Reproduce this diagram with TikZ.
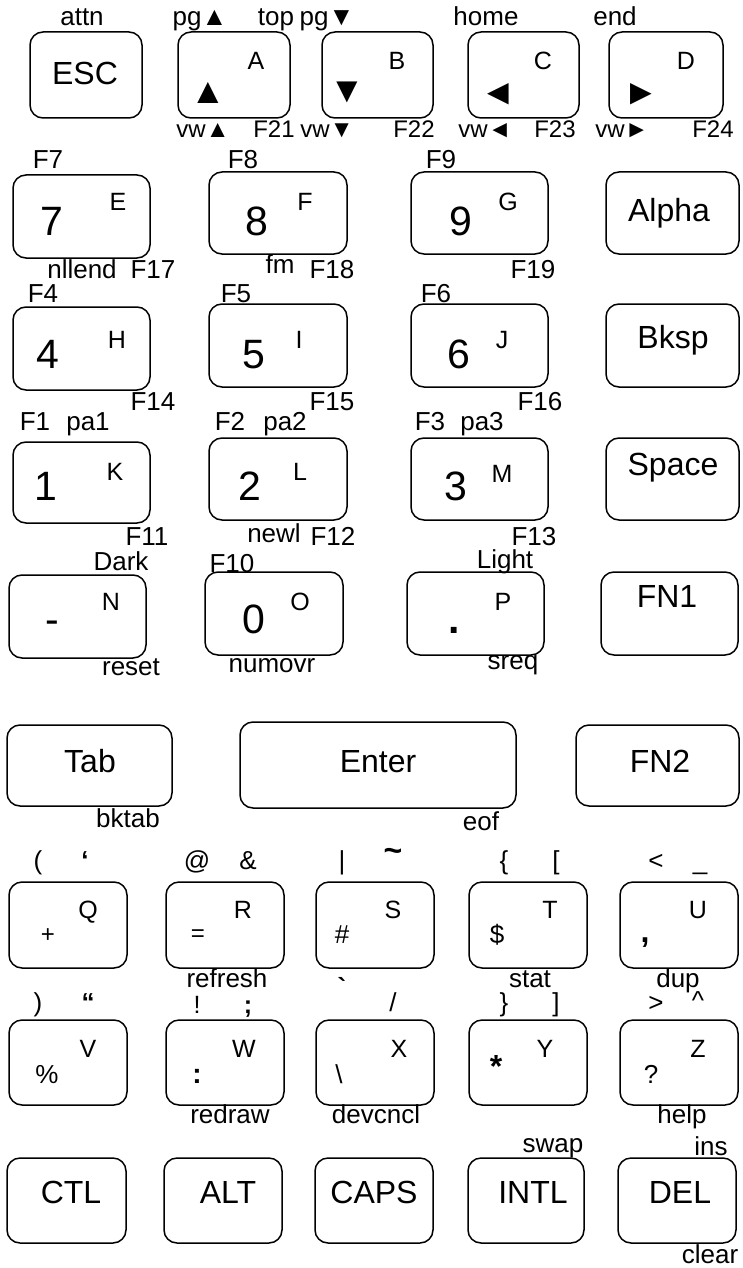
\documentclass[tikz,border=0pt]{standalone}
\usepackage{fontspec}
\setmainfont{Liberation Sans}
\begin{document}
\begin{tikzpicture}[x=1pt,y=-1pt,
  keyb/.style={draw, line width=1.5pt, rounded corners=13pt, inner sep=0pt, outer sep=0pt},
  big/.style={font=\fontsize{32}{34}\selectfont, inner sep=0pt, anchor=base},
  dig/.style={font=\fontsize{41}{42}\selectfont, inner sep=0pt, anchor=base},
  let/.style={font=\fontsize{25}{26}\selectfont, inner sep=0pt, anchor=base},
  lbl/.style={font=\fontsize{26}{28}\selectfont, inner sep=0pt, anchor=base},
  lbs/.style={font=\fontsize{24}{26}\selectfont, inner sep=0pt, anchor=base},
  sym/.style={font=\fontsize{26}{28}\selectfont, inner sep=0pt, anchor=base},
  symc/.style={font=\fontsize{26}{28}\selectfont\bfseries, inner sep=0pt, anchor=center},
  tri/.style={font=\fontsize{36}{36}\selectfont, inner sep=0pt, anchor=center}
]
\newcommand\kbox[5]{\node[keyb, minimum width={(#4-#2)*1pt}, minimum height={(#5-#3)*1pt}] (#1) at ({(#2+#4)/2},{(#3+#5)/2}) {};}
\useasboundingbox (0,0) rectangle (742,1268);
% key boxes
\kbox{esc}{30}{32}{142}{118}
\kbox{ka}{178}{32}{290}{118}
\kbox{kb}{322}{32}{433}{118}
\kbox{kc}{468}{32}{579}{118}
\kbox{kd}{609}{32}{723}{118}
\kbox{k7}{13}{175}{150}{258}
\kbox{k8}{209}{172}{347}{254}
\kbox{k9}{411}{172}{548}{254}
\kbox{alpha}{606}{172}{739}{254}
\kbox{k4}{13}{307}{150}{390}
\kbox{k5}{209}{304}{347}{387}
\kbox{k6}{411}{304}{548}{387}
\kbox{bksp}{606}{304}{739}{387}
\kbox{k1}{13}{442}{150}{523}
\kbox{k2}{209}{438}{347}{520}
\kbox{k3}{411}{438}{548}{520}
\kbox{space}{606}{438}{739}{520}
\kbox{kminus}{9}{575}{146}{658}
\kbox{k0}{205}{572}{343}{655}
\kbox{kdot}{407}{572}{544}{655}
\kbox{fn1}{601}{572}{738}{655}
\kbox{tab}{7}{725}{172}{806}
\kbox{enter}{240}{722}{516}{808}
\kbox{fn2}{576}{725}{739}{806}
\kbox{kq}{9}{882}{127}{968}
\kbox{kr}{166}{882}{284}{968}
\kbox{ks}{316}{882}{434}{968}
\kbox{kt}{469}{882}{587}{968}
\kbox{ku}{620}{882}{738}{968}
\kbox{kv}{9}{1020}{127}{1105}
\kbox{kw}{166}{1020}{284}{1105}
\kbox{kx}{316}{1020}{434}{1105}
\kbox{ky}{469}{1020}{587}{1105}
\kbox{kz}{620}{1020}{738}{1105}
\kbox{ctl}{7}{1158}{126}{1243}
\kbox{alt}{164}{1158}{282}{1243}
\kbox{caps}{315}{1158}{433}{1243}
\kbox{intl}{468}{1158}{584}{1243}
\kbox{del}{618}{1158}{736}{1243}
% row 1
\node[lbl] (tattn) at (82,26) {attn};
\node[lbl] (tpgup) at (200,26) {pg▲};
\node[lbl] (ttop) at (276,26) {top};
\node[lbl] (tpgdn) at (327,26) {pg▼};
\node[lbl] (thome) at (486,26) {home};
\node[lbl] (tend) at (615,26) {end};
\node[big] (tesc) at (85,85) {ESC};
\node[let] (ta) at (256,70) {A};
\node[let] (tb) at (397,70) {B};
\node[let] (tc) at (543,70) {C};
\node[let] (td) at (686,70) {D};
\node[tri] (triu) at (208,93) {▲};
\node[tri] (trid) at (347,92) {▼};
\node[tri] (tril) at (498,94) {◄};
\node[tri] (trir) at (641,94) {►};
\node[lbs] (tvwu) at (203,138) {vw▲};
\node[lbs] (tf21) at (274,138) {F21};
\node[lbs] (tvwd) at (327,138) {vw▼};
\node[lbs] (tf22) at (414,138) {F22};
\node[lbs] (tvwl) at (485,138) {vw◄};
\node[lbs] (tf23) at (555,138) {F23};
\node[lbs] (tvwr) at (622,138) {vw►};
\node[lbs] (tf24) at (713,138) {F24};
% row 2
\node[lbl] (tf7) at (48,168) {F7};
\node[lbl] (tf8) at (243,168) {F8};
\node[lbl] (tf9) at (441,168) {F9};
\node[dig] (t7) at (52,235) {7};
\node[let] (te) at (118,210) {E};
\node[dig] (t8) at (257,235) {8};
\node[let] (tf) at (305,210) {F};
\node[dig] (t9) at (461,235) {9};
\node[let] (tg) at (508,210) {G};
\node[big] (talpha) at (669,222) {Alpha};
\node[lbl] (tnllend) at (82,278) {nllend};
\node[lbl] (tf17) at (153,278) {F17};
\node[lbl] (tfm) at (280,273) {fm};
\node[lbl] (tf18) at (332,278) {F18};
\node[lbl] (tf19) at (533,278) {F19};
% row 3
\node[lbl] (tf4) at (43,302) {F4};
\node[lbl] (tf5) at (236,302) {F5};
\node[lbl] (tf6) at (436,302) {F6};
\node[dig] (t4) at (48,368) {4};
\node[let] (th) at (117,348) {H};
\node[dig] (t5) at (254,368) {5};
\node[let] (ti) at (299,348) {I};
\node[dig] (t6) at (459,368) {6};
\node[let] (tj) at (502,348) {J};
\node[big] (tbksp) at (673,348) {Bksp};
\node[lbl] (tf14) at (153,410) {F14};
\node[lbl] (tf15) at (332,410) {F15};
\node[lbl] (tf16) at (540,410) {F16};
% row 4
\node[lbl] (tf1) at (35,430) {F1};
\node[lbl] (tpa1) at (88,430) {pa1};
\node[lbl] (tf2) at (230,430) {F2};
\node[lbl] (tpa2) at (285,430) {pa2};
\node[lbl] (tf3) at (430,430) {F3};
\node[lbl] (tpa3) at (482,430) {pa3};
\node[dig] (t1) at (46,500) {1};
\node[let] (tk) at (115,480) {K};
\node[dig] (t2) at (250,500) {2};
\node[let] (tl) at (300,480) {L};
\node[dig] (t3) at (456,500) {3};
\node[let] (tm) at (502,482) {M};
\node[big] (tspace) at (673,475) {Space};
\node[lbl] (tf11) at (147,545) {F11};
\node[lbl] (tnewl) at (274,542) {newl};
\node[lbl] (tf12) at (333,545) {F12};
\node[lbl] (tf13) at (534,545) {F13};
% row 5
\node[lbl] (tdark) at (121,570) {Dark};
\node[lbl] (tf10) at (232,572) {F10};
\node[lbl] (tlight) at (505,568) {Light};
\node[dig] (tminus) at (52,633) {-};
\node[let] (tn) at (111,610) {N};
\node[dig] (t0) at (254,633) {0};
\node[let] (to) at (300,610) {O};
\node[dig,font=\fontsize{41}{42}\selectfont\bfseries] (tdot) at (454,633) {.};
\node[let] (tp) at (503,610) {P};
\node[big] (tfn1) at (667,607) {FN1};
\node[lbl] (treset) at (131,675) {reset};
\node[lbl] (tnumovr) at (272,672) {numovr};
\node[lbl] (tsreq) at (513,669) {sreq};
% row 6
\node[big] (ttab) at (90,772) {Tab};
\node[big] (tenter) at (378,772) {Enter};
\node[big] (tfn2) at (660,772) {FN2};
\node[lbl] (tbktab) at (128,827) {bktab};
\node[lbl] (teof) at (481,830) {eof};
% row 7
\node[sym] (tlpar) at (38,869) {(};
\node[sym,font=\fontsize{26}{28}\selectfont\bfseries] (tlsq) at (85,869) {‘};
\node[sym] (tat) at (197,869) {@};
\node[sym] (tamp) at (248,869) {\&};
\node[sym] (tbar) at (342,869) {\textbar};
\node[symc,font=\fontsize{32}{32}\selectfont\bfseries] (ttilde) at (393,855) {\textasciitilde};
\node[sym] (tlbrace) at (504,869) {\{};
\node[sym] (tlbrack) at (556,869) {[};
\node[sym] (tless) at (656,869) {<};
\node[sym] (tunder) at (700,869) {\_};
\node[let] (tq) at (88,918) {Q};
\node[let] (tr) at (243,918) {R};
\node[let] (ts) at (393,918) {S};
\node[let] (tt) at (550,918) {T};
\node[let] (tu) at (698,918) {U};
\node[symc,font=\fontsize{24}{26}\selectfont] (tplus) at (48,936) {+};
\node[symc,font=\fontsize{24}{26}\selectfont] (teq) at (198,936) {=};
\node[sym] (thash) at (342,943) {\#};
\node[sym] (tdollar) at (497,943) {\$};
\node[symc,font=\fontsize{32}{32}\selectfont\bfseries] (tcomma) at (645,943) {,};
\node[lbl] (trefresh) at (227,987) {refresh};
\node[lbl] (tstat) at (530,987) {stat};
\node[lbl] (tdup) at (678,987) {dup};
% row 8
\node[sym] (trpar) at (38,1011) {)};
\node[sym,font=\fontsize{26}{28}\selectfont\bfseries] (tldq) at (88,1011) {“};
\node[sym,font=\fontsize{25}{26}\selectfont] (texcl) at (197,1013) {!};
\node[sym,font=\fontsize{25}{26}\selectfont\bfseries] (tsemi) at (248,1013) {;};
\node[symc] (tgrave) at (342,987) {\textasciigrave};
\node[sym] (tslash) at (393,1011) {/};
\node[sym] (trbrace) at (504,1011) {\}};
\node[sym] (trbrack) at (556,1011) {]};
\node[sym] (tgreater) at (656,1011) {>};
\node[symc,font=\fontsize{26}{28}\selectfont] (tcaret) at (698,1001) {\textasciicircum};
\node[let] (tv) at (88,1057) {V};
\node[let] (tw) at (244,1057) {W};
\node[let] (tx) at (399,1057) {X};
\node[let] (ty) at (545,1057) {Y};
\node[let] (tz) at (698,1057) {Z};
\node[sym] (tpct) at (47,1083) {\%};
\node[sym,font=\fontsize{28}{28}\selectfont\bfseries] (tcolon) at (197,1083) {:};
\node[sym] (tbslash) at (339,1083) {\textbackslash};
\node[symc,font=\fontsize{32}{32}\selectfont\bfseries] (tstar) at (496,1066) {*};
\node[sym] (tquest) at (651,1083) {?};
\node[lbl] (tredraw) at (230,1123) {redraw};
\node[lbl] (tdevcncl) at (376,1123) {devcncl};
\node[lbl] (thelp) at (682,1123) {help};
% row 9
\node[lbl] (tswap) at (553,1152) {swap};
\node[lbl] (tins) at (711,1155) {ins};
\node[big] (tctl) at (71,1203) {CTL};
\node[big] (talt) at (228,1203) {ALT};
\node[big] (tcaps) at (374,1203) {CAPS};
\node[big] (tintl) at (533,1203) {INTL};
\node[big] (tdel) at (680,1203) {DEL};
\node[lbl] (tclear) at (710,1263) {clear};
\end{tikzpicture}
\end{document}
